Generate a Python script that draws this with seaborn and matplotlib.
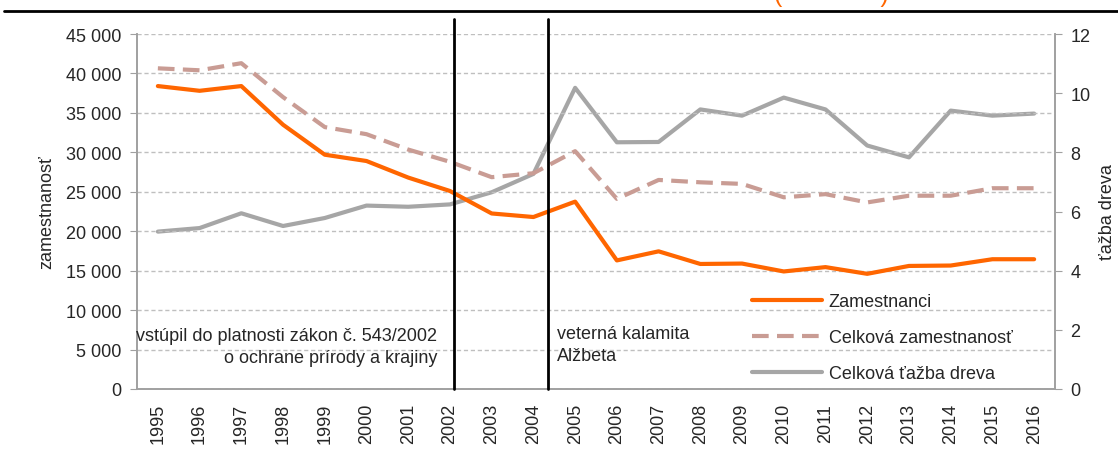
import numpy as np
import pandas as pd
import matplotlib
matplotlib.use("Agg")
import matplotlib.pyplot as plt
import matplotlib.ticker as mticker
from matplotlib.lines import Line2D
import seaborn as sns

# data
years = list(range(1995, 2017))
zamestnanci = [38400, 37800, 38400, 33500, 29700, 28900, 26800, 25100, 22250, 21800, 23750,
               16300, 17450, 15850, 15900, 14900, 15450, 14600, 15600, 15650, 16450, 16450]
celkova_zam = [40650, 40400, 41300, 37000, 33200, 32300, 30350, 28800, 26850, 27350, 30150,
               24100, 26500, 26200, 26000, 24300, 24700, 23650, 24500, 24500, 25450, 25450]
tazba = [5.32, 5.44, 5.94, 5.51, 5.78, 6.20, 6.16, 6.24, 6.65, 7.27, 10.18,
         8.34, 8.35, 9.45, 9.24, 9.85, 9.45, 8.23, 7.83, 9.41, 9.24, 9.31]
events = [2002.1, 2004.35]
event_labels = ["vstúpil do platnosti zákon č. 543/2002\no ochrane prírody a krajiny",
                "veterná kalamita\nAlžbeta"]

sns.set_style("white")
plt.rcParams['font.family'] = ['Liberation Sans', 'DejaVu Sans']
FS = 13

df = pd.DataFrame({"pos": np.arange(len(years)), "zam": zamestnanci,
                   "cel": celkova_zam, "taz": tazba})

fig = plt.figure(figsize=(11.18, 4.56), dpi=100)
ax = fig.add_axes([137 / 1118, 1 - 390 / 456, (1055 - 137) / 1118, 355 / 456])
ax2 = ax.twinx()

orange = "#FF6600"
rosy = "#C99C94"
gray = "#A6A6A6"

sns.lineplot(data=df, x="pos", y="zam", ax=ax, color=orange, linewidth=3)
l2 = sns.lineplot(data=df, x="pos", y="cel", ax=ax, color=rosy, linewidth=3)
l2.lines[-1].set_dashes((4, 2))
sns.lineplot(data=df, x="pos", y="taz", ax=ax2, color=gray, linewidth=3)
ax2.set_zorder(0)
ax.set_zorder(1)
ax.patch.set_visible(False)

ax.set_xlim(-0.5, len(years) - 0.5)
ax.set_ylim(0, 45000)
ax2.set_ylim(0, 12)
ax.set_yticks(range(0, 45001, 5000))
ax2.set_yticks(range(0, 13, 2))
ax.yaxis.set_major_formatter(mticker.FuncFormatter(lambda v, p: f"{int(v):,}".replace(",", " ")))

ax.set_xticks(np.arange(len(years)))
ax.set_xticklabels([str(y) for y in years], rotation=90, fontsize=FS)
ax.set_xticks(np.arange(-0.5, len(years)), minor=True)
ax.tick_params(axis="x", which="major", length=0, pad=10)
ax.tick_params(axis="x", which="minor", length=6, color="#A0A0A0", width=1)
ax.tick_params(axis="y", length=5, color="#A0A0A0", labelsize=FS, pad=6)
ax2.tick_params(axis="y", length=5, color="#A0A0A0", labelsize=FS, pad=6)

ax.grid(axis="y", linestyle=(0, (3, 2)), color="#BFBFBF", linewidth=1)
for a in (ax, ax2):
    a.spines["top"].set_visible(False)
    for s in ("left", "right", "bottom"):
        a.spines[s].set_color("#A0A0A0")
        a.spines[s].set_linewidth(1.2)
ax.set_xlabel("")
ax.set_ylabel("zamestnanosť", fontsize=FS, labelpad=8)
ax2.set_ylabel("ťažba dreva", fontsize=FS, labelpad=6)

# event markers
for ev in events:
    xp = years.index(int(ev)) + (ev - int(ev))
    ax.axvline(xp, ymin=0, ymax=1.042, color="black", linewidth=2, clip_on=False, zorder=5)
ax.text(6.69, 5400, event_labels[0], ha="right", va="center", multialignment="right",
        fontsize=FS, linespacing=1.35)
ax.text(9.57, 5650, event_labels[1], ha="left", va="center", fontsize=FS, linespacing=1.35)

handles = [Line2D([], [], color=orange, linewidth=3),
           Line2D([], [], color=rosy, linewidth=3, dashes=(4, 2)),
           Line2D([], [], color=gray, linewidth=3)]
leg = ax.legend(handles, ["Zamestnanci", "Celková zamestnanosť", "Celková ťažba dreva"],
                loc="upper left", bbox_to_anchor=(752 / 1118, 1 - 294 / 456),
                bbox_transform=fig.transFigure, frameon=False, fontsize=FS,
                handlelength=3.9, handletextpad=0.35, labelspacing=1.05,
                borderpad=0, borderaxespad=0)

# top rule and clipped orange heading
fig.add_artist(Line2D([4 / 1118, 1], [1 - 12 / 456, 1 - 12 / 456], color="black", linewidth=2))
fig.text(831 / 1118, 1.012, "(              )", color=orange, fontsize=18,
         ha="center", va="center")

fig.savefig("out.png", dpi=100)
